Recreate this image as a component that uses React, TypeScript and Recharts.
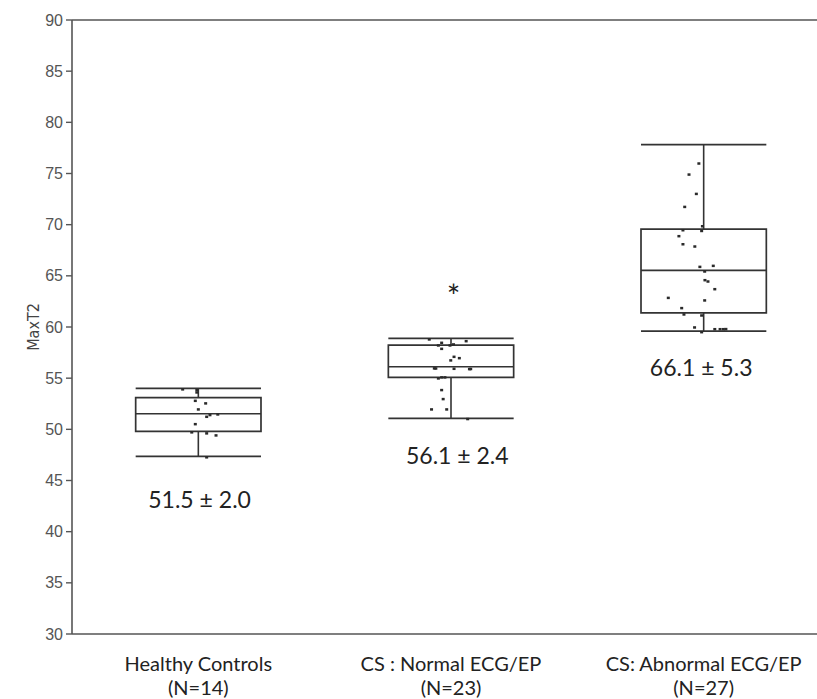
import React from "react";
import {
  ComposedChart,
  Scatter,
  XAxis,
  YAxis,
  ReferenceArea,
  ReferenceLine,
  ReferenceDot,
} from "recharts";

const categories = ["Healthy Controls", "CS : Normal ECG/EP", "CS: Abnormal ECG/EP"];
const groupSizes = ["(N=14)", "(N=23)", "(N=27)"];

// box plot statistics per group
const whiskerLow = [47.36, 51.07, 59.6];
const q1 = [49.8, 55.08, 61.39];
const median = [51.52, 56.11, 65.53];
const q3 = [53.09, 58.23, 69.56];
const whiskerHigh = [54.0, 58.89, 77.83];

const statLabels = ["51.5 ± 2.0", "56.1 ± 2.4", "66.1 ± 5.3"];
const statLabelAt = [
  { x: 1.005, y: 43.12 },
  { x: 2.025, y: 47.41 },
  { x: 2.99, y: 56.01 },
];
const starAt = { x: 2.01, y: 63.0 };

const yTicks = [30, 35, 40, 45, 50, 55, 60, 65, 70, 75, 80, 85, 90];

// individual subjects (value, horizontal jitter around the group)
const healthyValues = [53.91, 53.84, 53.61, 52.79, 52.54, 51.95, 51.23, 51.4, 51.46, 50.51, 49.71, 49.61, 49.41, 47.27];
const healthyJitter = [-0.062, -0.006, -0.006, -0.012, 0.029, 0.0, 0.033, 0.046, 0.077, -0.012, -0.026, 0.033, 0.07, 0.033];

const normalValues = [58.79, 58.62, 58.46, 58.2, 58.2, 57.87, 57.09, 56.96, 56.74, 55.96, 55.92, 55.89, 54.98, 55.08, 55.08, 53.84, 52.96, 51.95, 51.95, 51.01, 55.9, 55.95, 58.3];
const normalJitter = [-0.086, 0.06, -0.037, -0.05, -0.004, -0.037, 0.012, 0.033, -0.001, -0.066, 0.012, 0.073, -0.05, -0.037, -0.024, -0.037, -0.031, -0.077, -0.017, 0.066, 0.078, -0.06, 0.01];

const abnormalValues = [75.98, 74.9, 73.01, 71.74, 69.85, 69.46, 69.39, 68.88, 68.09, 67.87, 65.88, 65.98, 65.43, 64.58, 64.45, 63.7, 62.85, 62.6, 61.85, 61.23, 61.13, 59.96, 59.79, 59.79, 59.79, 59.5, 59.8];
const abnormalJitter = [-0.019, -0.058, -0.029, -0.075, -0.005, -0.082, -0.008, -0.098, -0.082, -0.035, -0.015, 0.038, 0.004, 0.005, 0.017, 0.044, -0.14, 0.004, -0.087, -0.078, -0.008, -0.036, 0.044, 0.065, 0.078, -0.008, 0.088];

const BOX_HALF = 0.248;
const LINE = "#333";
const AXIS = "#555";
const LABEL_FONT = "Lato, 'Open Sans', sans-serif";

const toPoints = (center: number, values: number[], jitter: number[]) =>
  values.map((v, i) => ({ x: center + jitter[i], y: v }));

const healthyPoints = toPoints(1, healthyValues, healthyJitter);
const normalPoints = toPoints(2, normalValues, normalJitter);
const abnormalPoints = toPoints(3, abnormalValues, abnormalJitter);

const Dot = (props: any) => {
  const { cx, cy } = props;
  if (cx == null || cy == null) return null;
  return <rect x={cx - 1.5} y={cy - 1.2} width={3} height={2.5} fill="#2a2a2a" />;
};

const CatTick = (props: any) => {
  const { x, y, payload } = props;
  const i = Math.round(payload.value) - 1;
  return (
    <g>
      <text
        x={x}
        y={y}
        textAnchor="middle"
        fill="#222"
        fontSize={20}
        fontFamily={LABEL_FONT}
      >
        <tspan x={x} dy={37}>
          {categories[i]}
        </tspan>
        <tspan x={x} dy={23.5}>
          {groupSizes[i]}
        </tspan>
      </text>
    </g>
  );
};

const YTick = (props: any) => {
  const { x, y, payload } = props;
  return (
    <text
      x={x}
      y={y}
      dy={5.5}
      textAnchor="end"
      fill="#555"
      fontSize={16}
      fontFamily="'Liberation Sans', Arial, sans-serif"
    >
      {payload.value}
    </text>
  );
};

const YLabel = (props: any) => {
  const vb = props.viewBox || { x: 0, y: 20, width: 72, height: 614 };
  const cx = 33;
  const cy = vb.y + vb.height / 2;
  return (
    <text
      x={cx}
      y={cy}
      transform={`rotate(-90, ${cx}, ${cy})`}
      textAnchor="middle"
      dominantBaseline="central"
      fill="#444"
      fontSize={16}
      fontFamily="'Liberation Sans Narrow', 'DejaVu Sans Condensed', sans-serif"
    >
      MaxT2
    </text>
  );
};

export default function App() {
  return (
    <div
      style={{
        position: "absolute",
        left: 0,
        top: 0,
        width: 817,
        height: 699,
        overflow: "hidden",
        background: "#fff",
      }}
    >
      <ComposedChart
        width={830}
        height={699}
        margin={{ top: 20, right: 0, bottom: 0, left: 0 }}
      >
        <XAxis
          type="number"
          dataKey="x"
          domain={[0.5, 3.5]}
          ticks={[1, 2, 3]}
          interval={0}
          height={65}
          tickLine={false}
          tickSize={0}
          tickMargin={0}
          axisLine={{ stroke: AXIS, strokeWidth: 1.6 }}
          tick={<CatTick />}
          allowDataOverflow
        />
        <YAxis
          type="number"
          dataKey="y"
          domain={[30, 90]}
          ticks={yTicks}
          interval={0}
          width={72}
          tickSize={6}
          tickMargin={3}
          tickLine={{ stroke: AXIS, strokeWidth: 1.4 }}
          axisLine={{ stroke: AXIS, strokeWidth: 1.6 }}
          tick={<YTick />}
          label={<YLabel />}
          allowDataOverflow
        />
        <ReferenceLine y={90} stroke={AXIS} strokeWidth={1.6} />

        {categories.map((c, i) => (
          <ReferenceArea
            key={`box-${c}`}
            x1={i + 1 - BOX_HALF}
            x2={i + 1 + BOX_HALF}
            y1={q1[i]}
            y2={q3[i]}
            fill="none"
            fillOpacity={0}
            stroke={LINE}
            strokeWidth={1.7}
          />
        ))}
        {categories.map((c, i) => (
          <ReferenceLine
            key={`med-${c}`}
            segment={[
              { x: i + 1 - BOX_HALF, y: median[i] },
              { x: i + 1 + BOX_HALF, y: median[i] },
            ]}
            stroke={LINE}
            strokeWidth={1.6}
          />
        ))}
        {categories.map((c, i) => (
          <ReferenceLine
            key={`wh-${c}`}
            segment={[
              { x: i + 1, y: q3[i] },
              { x: i + 1, y: whiskerHigh[i] },
            ]}
            stroke={LINE}
            strokeWidth={1.6}
          />
        ))}
        {categories.map((c, i) => (
          <ReferenceLine
            key={`wl-${c}`}
            segment={[
              { x: i + 1, y: whiskerLow[i] },
              { x: i + 1, y: q1[i] },
            ]}
            stroke={LINE}
            strokeWidth={1.6}
          />
        ))}
        {categories.map((c, i) => (
          <ReferenceLine
            key={`cap-hi-${c}`}
            segment={[
              { x: i + 1 - BOX_HALF, y: whiskerHigh[i] },
              { x: i + 1 + BOX_HALF, y: whiskerHigh[i] },
            ]}
            stroke={LINE}
            strokeWidth={1.7}
          />
        ))}
        {categories.map((c, i) => (
          <ReferenceLine
            key={`cap-lo-${c}`}
            segment={[
              { x: i + 1 - BOX_HALF, y: whiskerLow[i] },
              { x: i + 1 + BOX_HALF, y: whiskerLow[i] },
            ]}
            stroke={LINE}
            strokeWidth={1.7}
          />
        ))}

        <Scatter data={healthyPoints} dataKey="y" shape={<Dot />} isAnimationActive={false} />
        <Scatter data={normalPoints} dataKey="y" shape={<Dot />} isAnimationActive={false} />
        <Scatter data={abnormalPoints} dataKey="y" shape={<Dot />} isAnimationActive={false} />

        {statLabels.map((s, i) => (
          <ReferenceDot
            key={`stat-${i}`}
            x={statLabelAt[i].x}
            y={statLabelAt[i].y}
            r={0}
            fill="none"
            stroke="none"
            label={{
              value: s,
              position: "center",
              fill: "#222",
              fontSize: 23,
              fontFamily: LABEL_FONT,
            }}
          />
        ))}
        <ReferenceDot
          x={starAt.x}
          y={starAt.y}
          r={0}
          fill="none"
          stroke="none"
          label={{
            value: "*",
            position: "center",
            fill: "#222",
            fontSize: 32,
            fontFamily: LABEL_FONT,
          }}
        />
      </ComposedChart>
    </div>
  );
}
